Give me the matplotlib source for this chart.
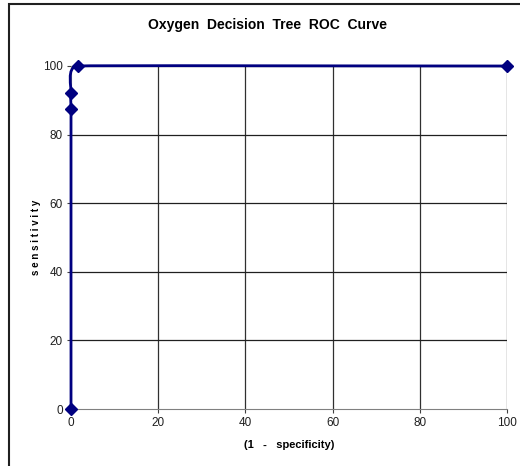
import matplotlib
matplotlib.use("Agg")
import matplotlib.pyplot as plt
from matplotlib.path import Path
from matplotlib.patches import PathPatch, Rectangle
import numpy as np

plt.rcParams['font.family'] = ['Liberation Sans', 'DejaVu Sans']

fpr = [0, 0, 0, 1.5, 100]          # (1 - specificity)
sens = [0, 87.5, 92, 100, 100]     # sensitivity
xticks = [0, 20, 40, 60, 80, 100]
yticks = [0, 20, 40, 60, 80, 100]

fig = plt.figure(figsize=(5.2, 4.66), dpi=100)
ax = fig.add_axes([71/520, 1-409/466, 436/520, 343/466])
ax.set_xlim(0, 100)
ax.set_ylim(0, 100)
ax.set_xticks(xticks)
ax.set_yticks(yticks)
ax.tick_params(labelsize=8.5, length=3, width=0.8, color='#404040',
               labelcolor='#202020', pad=3)
for s in ['top', 'right']:
    ax.spines[s].set_visible(False)
ax.spines['bottom'].set_color('#808080')
ax.spines['left'].set_color('#808080')
for v in xticks[1:]:
    ax.axvline(v, color='#303030', lw=0.9, zorder=1)
for v in yticks[1:]:
    ax.axhline(v, color='#202020', lw=0.9, zorder=1)

# Smoothed (Bezier) curve through the points
pts = np.column_stack([fpr, sens]).astype(float)
verts = [pts[0]]
codes = [Path.MOVETO]
n = len(pts)

def unit(v):
    l = np.hypot(*v)
    return v / l if l > 0 else v

for i in range(n - 1):
    p0 = pts[i - 1] if i > 0 else pts[i]
    p1 = pts[i]
    p2 = pts[i + 1]
    p3 = pts[i + 2] if i + 2 < n else pts[i + 1]
    seg = np.hypot(*(p2 - p1))
    prev_seg = np.hypot(*(p1 - p0)) if i > 0 else seg
    next_seg = np.hypot(*(p3 - p2)) if i + 2 < n else seg
    d1 = unit(p2 - p0)
    d2 = unit(p3 - p1)
    c1 = p1 + d1 * min(seg, prev_seg) / 3.0
    c2 = p2 - d2 * min(seg, next_seg) / 3.0
    verts += [c1, c2, p2]
    codes += [Path.CURVE4] * 3
patch = PathPatch(Path(verts, codes), facecolor='none', edgecolor='#000080',
                  lw=2, zorder=3, clip_on=False)
ax.add_patch(patch)
ax.plot(fpr, sens, linestyle='none', marker='D', markersize=6,
        color='#000080', zorder=4, clip_on=False)

fig.text(268/520, 1-25/466, 'Oxygen  Decision  Tree  ROC  Curve',
         ha='center', va='center', fontsize=10, fontweight='bold')
ax.set_xlabel('(1   -   specificity)', fontsize=8, fontweight='bold', labelpad=8)
ax.set_ylabel('s e n s i t i v i t y', fontsize=7, fontweight='bold', labelpad=1)

fig.patches.append(Rectangle((9/520, -0.1), 1.2, 1 - 4/466 + 0.1,
                             transform=fig.transFigure, fill=False,
                             edgecolor='#202020', lw=1.5))
fig.savefig('out.png', dpi=100)
